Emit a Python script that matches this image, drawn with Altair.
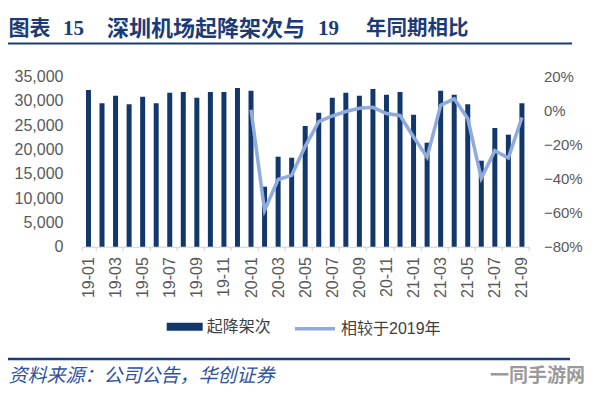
import altair as alt
import pandas as pd

# ---------------- data ----------------
months = ["19-01", "19-02", "19-03", "19-04", "19-05", "19-06", "19-07", "19-08", "19-09", "19-10", "19-11", "19-12",
          "20-01", "20-02", "20-03", "20-04", "20-05", "20-06", "20-07", "20-08", "20-09", "20-10", "20-11", "20-12",
          "21-01", "21-02", "21-03", "21-04", "21-05", "21-06", "21-07", "21-08", "21-09"]
flights = [32260, 29520, 31090, 29310, 30880, 29520, 31700, 31850, 30680, 31850, 31850, 32670,
           32120, 12350, 18530, 18320, 24850, 27590, 30680, 31700, 31090, 32470, 31300, 31850,
           27180, 21410, 32120, 31300, 29310, 17710, 24440, 23060, 29520]
# % change vs same month of 2019 (starts 20-01)
vs2019 = [None] * 12 + [0.5, -58.6, -40.5, -38.0, -21.0, -6.4, -3.1, -0.5, 1.4, 2.0, -1.7, -2.8,
                        -15.5, -27.3, 3.2, 7.0, -4.6, -39.8, -23.5, -27.8, -4.0]
tick_months = months[::2]
left_ticks = [0, 5000, 10000, 15000, 20000, 25000, 30000, 35000]
right_ticks = [-0.8, -0.6, -0.4, -0.2, 0.0, 0.2]
series_bar = "起降架次"
series_line = "相较于2019年"
title_parts = ["图表", "15", "深圳机场起降架次与", "19", "年同期相比"]
source_text = "资料来源：公司公告，华创证券"
watermark_text = "一同手游网"

df = pd.DataFrame({
    "month": months,
    "flights": flights,
    "pct": [None if v is None else v / 100 for v in vs2019],
    "s1": series_bar,
    "s2": series_line,
})

# ---------------- layout helpers ----------------
OX, OY = 81.7, 76.7          # page position of plot-area origin
W, H = 447, 170
TOTAL_W, TOTAL_H = 578, 379

def px(x):
    return x - OX

def py(y):
    return y - OY

BAR_COLOR = "#12386b"
LINE_COLOR = "#8faadc"
TITLE_COLOR = "#1b3a78"
CJK = "Noto Sans CJK SC"
SANS = "Liberation Sans, Noto Sans CJK SC"
SERIF = "Liberation Serif, Noto Sans CJK SC"

def txt(s, x, y, size, color, font=CJK, weight="normal", style="normal", align="left"):
    return alt.Chart(pd.DataFrame({"t": [s]})).mark_text(
        align=align, baseline="middle", fontSize=size, font=font,
        fontWeight=weight, fontStyle=style, color=color
    ).encode(text="t:N", x=alt.value(px(x)), y=alt.value(py(y)))

def hline(x1, x2, y, color, width):
    return alt.Chart(pd.DataFrame({"a": [0]})).mark_rule(color=color, strokeWidth=width).encode(
        x=alt.value(px(x1)), x2=alt.value(px(x2)), y=alt.value(py(y)))

x_enc = alt.X("month:N", sort=months, title=None,
              scale=alt.Scale(paddingInner=0, paddingOuter=0),
              axis=alt.Axis(values=tick_months, labelAngle=270, labelFontSize=16,
                            labelColor="#595959", labelFont=SANS, labelPadding=6,
                            tickBand="extent", tickSize=4, tickColor="#d0d0d0",
                            domainColor="#d0d0d0", grid=False))

bars = alt.Chart(df).mark_bar(size=5).encode(
    x=x_enc,
    y=alt.Y("flights:Q", title=None, scale=alt.Scale(domain=[0, 35000], nice=False),
            axis=alt.Axis(values=left_ticks, format=",.0f", domain=False, ticks=False, tickSize=0,
                          grid=False, labelFontSize=16, labelColor="#595959", labelFont=SANS,
                          labelPadding=18.7)),
    color=alt.Color("s1:N", scale=alt.Scale(domain=[series_bar], range=[BAR_COLOR]),
                    legend=alt.Legend(title=None, orient="none", legendX=85, legendY=232,
                                      symbolType="M-1,-0.22H1V0.22H-1Z", symbolSize=1296,
                                      symbolStrokeWidth=0, labelFontSize=16, labelColor="#404040",
                                      labelFont=SANS, labelOffset=4)),
)

line = alt.Chart(df).transform_filter("isValid(datum.pct)").mark_line(strokeWidth=3.5).encode(
    x=alt.X("month:N", sort=months, title=None, scale=alt.Scale(paddingInner=0, paddingOuter=0)),
    y=alt.Y("pct:Q", title=None, scale=alt.Scale(domain=[-0.8, 0.2], nice=False),
            axis=alt.Axis(orient="right", values=right_ticks, format=".0%", domain=False,
                          ticks=False, tickSize=0, grid=False, labelFontSize=15,
                          labelColor="#595959", labelFont=SANS, labelPadding=14.7)),
    stroke=alt.Stroke("s2:N", scale=alt.Scale(domain=[series_line], range=[LINE_COLOR]),
                      legend=alt.Legend(title=None, orient="none", legendX=211.3, legendY=230,
                                        symbolType="stroke", symbolSize=1600,
                                        symbolStrokeWidth=3.5, labelFontSize=16,
                                        labelColor="#404040", labelFont=SANS, labelOffset=4)),
)

data_layer = alt.layer(bars, line).resolve_scale(y="independent")

decor = [
    txt(title_parts[0], 8.5, 29, 21, TITLE_COLOR, weight="bold"),
    txt(title_parts[1], 63, 29, 21, TITLE_COLOR, font=SERIF, weight="bold"),
    txt(title_parts[2], 107, 29, 22, TITLE_COLOR, weight="bold"),
    txt(title_parts[3], 318, 29, 21, TITLE_COLOR, font=SERIF, weight="bold"),
    txt(title_parts[4], 366, 29, 20.5, TITLE_COLOR, weight="bold"),
    hline(8, 572, 43.5, TITLE_COLOR, 2),
    hline(8, 570, 359, TITLE_COLOR, 2.5),
    txt(source_text, 8.5, 375.5, 19, "#2f52a0", style="italic"),
    txt(watermark_text, 585, 376, 19, "#9a9a9a", weight="bold", align="right"),
]

chart = alt.layer(data_layer, *decor).properties(
    width=W, height=H,
    autosize=alt.AutoSizeParams(type="none"),
    padding={"left": OX - 8, "top": OY - 8,
             "right": TOTAL_W - (OX - 8) - W, "bottom": TOTAL_H - (OY - 8) - H},
    background="white",
).configure_view(stroke=None)

chart.save("out.html", embed_options={"renderer": "svg", "actions": False})
